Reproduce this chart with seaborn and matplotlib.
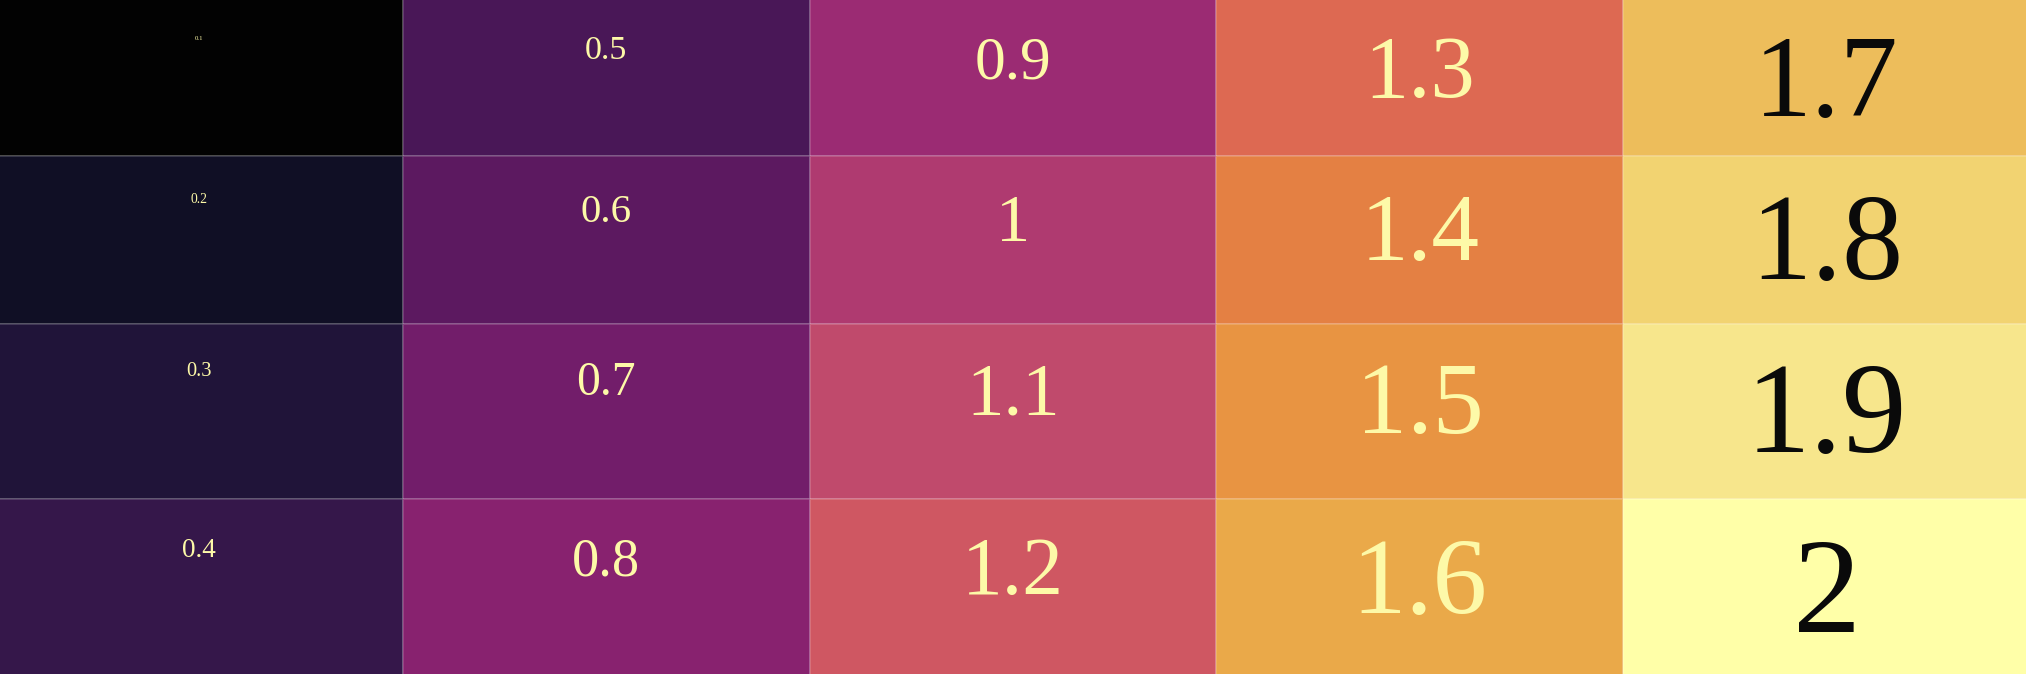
import numpy as np
import pandas as pd
import matplotlib.pyplot as plt
import seaborn as sns
from matplotlib.colors import LinearSegmentedColormap

# grid values, read row by row (values run down the columns)
row_labels = ['r1', 'r2', 'r3', 'r4']
col_labels = ['c1', 'c2', 'c3', 'c4', 'c5']
row_1 = [0.1, 0.5, 0.9, 1.3, 1.7]
row_2 = [0.2, 0.6, 1.0, 1.4, 1.8]
row_3 = [0.3, 0.7, 1.1, 1.5, 1.9]
row_4 = [0.4, 0.8, 1.2, 1.6, 2.0]

# colour ramp, low -> high
ramp = ['#020202', '#100f26', '#21143a', '#35174a', '#4a1758',
        '#5c1960', '#731d6a', '#88226f', '#9c2b73', '#af3a70',
        '#c04a6c', '#cf5662', '#dd6952', '#e47f43', '#e89442',
        '#eaa848', '#edbd5b', '#f2d26f', '#f7e58b', '#ffffa8']

df = pd.DataFrame([row_1, row_2, row_3, row_4], index=row_labels, columns=col_labels)

cmap = LinearSegmentedColormap.from_list(
    'warm', list(zip(np.linspace(0, 1, len(ramp)), ramp)))

fig = plt.figure(figsize=(20.26, 6.74), dpi=100)
# a touch bigger than the figure so the outer cell borders fall outside
ax = fig.add_axes([-0.002, -0.004, 1.004, 1.008])
sns.heatmap(df, cmap=cmap, vmin=0.1, vmax=2.0, cbar=False,
            linewidths=1.2, linecolor=(1, 1, 1, 0.16),
            xticklabels=False, yticklabels=False, ax=ax)

# rows are not all the same height in the original
row_px = [157, 167, 174, 176]
edges = np.cumsum([0] + row_px) / sum(row_px) * 4
steps = np.arange(5)
ax.set_yscale('function', functions=(lambda y: np.interp(y, steps, edges),
                                     lambda y: np.interp(y, edges, steps)))
ax.set_xlim(0, 5)
ax.set_ylim(4, 0)
ax.axis('off')

# labels grow with the value, sitting near the top of each cell
for r in range(df.shape[0]):
    for c in range(df.shape[1]):
        v = df.iat[r, c]
        y = r + (38 + 47 * v) / row_px[r]
        ax.text(c + 0.5, y, f'{v:g}', ha='center', va='baseline',
                fontsize=49 * v, family='Liberation Serif',
                color='#0a0a0a' if v >= 1.7 else '#fdf9a8')

fig.savefig('out.png', dpi=100)
